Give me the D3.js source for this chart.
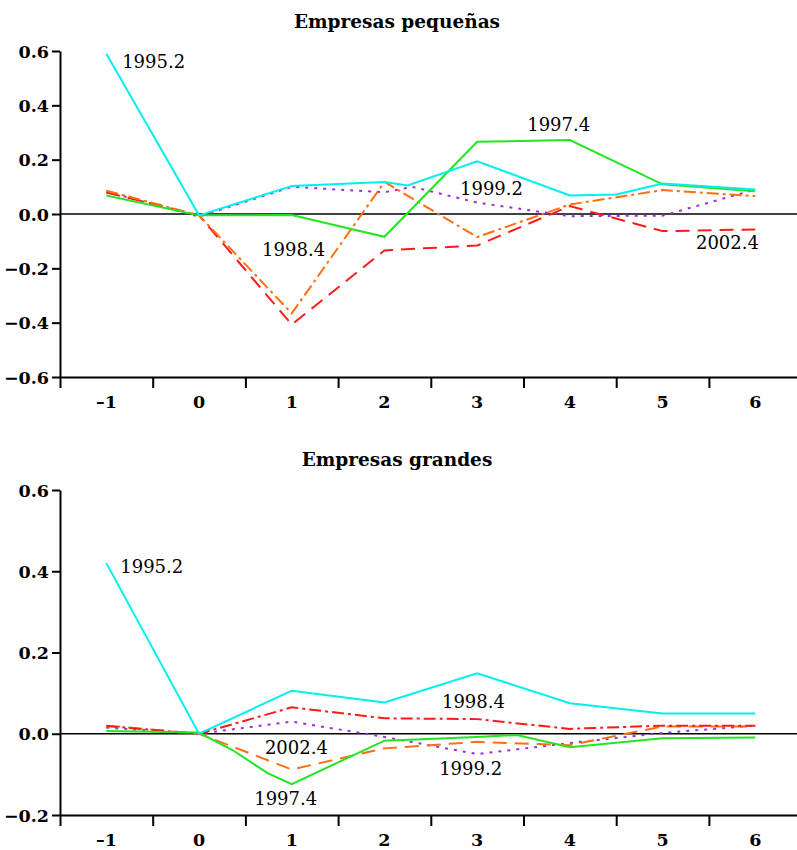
<html>
<head>
  <title>Empresas</title>
</head>
<style>
  body { margin: 0; padding: 0; background: #fff; }
  svg text { font-family: "DejaVu Serif", "Liberation Serif", serif; fill: #000; }
</style>
<body>
  <div id="chart"></div>
</body>
<script src="https://cdn.jsdelivr.net/npm/d3@7"></script>
<script>
  // horizontes (años tras el choque)
  const horizons = [-1, 0, 1, 2, 3, 4, 5, 6]
  const yTicksTop = [-0.6, -0.4, -0.2, 0, 0.2, 0.4, 0.6]
  const yTicksBottom = [-0.2, 0, 0.2, 0.4, 0.6]

  // Empresas pequeñas: [horizonte, valor]
  const small1995_2 = [[-1, 0.59], [0, -0.005], [1, 0.103], [2, 0.118], [2.25, 0.105], [3, 0.194], [4, 0.068], [4.5, 0.072], [5, 0.112], [6, 0.09]]
  const small1997_4 = [[-1, 0.068], [0, -0.005], [1, -0.004], [2, -0.084], [3, 0.266], [4, 0.272], [5, 0.109], [6, 0.084]]
  const small1999_2 = [[-1, 0.083], [0, -0.01], [1, 0.1], [2, 0.08], [2.3, 0.1], [3, 0.042], [4, -0.008], [5, -0.006], [6, 0.09]]
  const small1998_4 = [[-1, 0.086], [0, -0.005], [1, -0.366], [2, 0.118], [3, -0.085], [4, 0.035], [5, 0.088], [6, 0.066]]
  const small2002_4 = [[-1, 0.079], [0, -0.005], [1, -0.407], [2, -0.134], [3, -0.116], [4, 0.029], [5, -0.063], [6, -0.057]]

  // Empresas grandes
  const big1995_2 = [[-1, 0.42], [0, 0], [1, 0.106], [2, 0.077], [3, 0.149], [4, 0.075], [5, 0.05], [6, 0.05]]
  const big1998_4 = [[-1, 0.019], [0, 0], [1, 0.065], [2, 0.038], [3, 0.036], [4, 0.012], [5, 0.02], [6, 0.02]]
  const big1999_2 = [[-1, 0.015], [0, 0], [1, 0.03], [2, -0.008], [3, -0.05], [4, -0.023], [5, 0.002], [6, 0.02]]
  const big2002_4 = [[-1, 0.02], [0, 0], [1, -0.088], [2, -0.036], [3, -0.02], [4, -0.028], [5, 0.018], [6, 0.018]]
  const big1997_4 = [[-1, 0.007], [0, 0.003], [0.36, -0.04], [0.74, -0.097], [1, -0.124], [2, -0.017], [3, -0.008], [3.43, -0.003], [4, -0.033], [5, -0.011], [6, -0.009]]

  const width = 797
  const height = 850
  const svg = d3.select("#chart").append("svg")
    .attr("width", width)
    .attr("height", height)

  const x = d3.scaleLinear().domain([-1.5, 6.5]).range([60, 801.6])

  function panel(cfg) {
    const y = d3.scaleLinear().domain(cfg.domain).range(cfg.range)
    const g = svg.append("g")

    g.append("text")
      .attr("x", 397).attr("y", cfg.titleY)
      .attr("text-anchor", "middle")
      .attr("dominant-baseline", "middle")
      .attr("font-weight", "bold")
      .attr("font-size", 18.5)
      .text(cfg.title)

    // eje y
    const ay = g.append("g")
      .attr("transform", `translate(${x(-1.5)},0)`)
      .call(d3.axisLeft(y).tickValues(cfg.yTicks).tickSize(8).tickSizeOuter(0)
        .tickFormat(d => d3.format(".1f")(d).replace("-", "–")))
    ay.select(".domain").attr("stroke-width", 2)
    ay.selectAll(".tick line").attr("stroke-width", 2)
    ay.selectAll("text").attr("font-size", 17.5).attr("font-weight", "bold")
      .attr("font-family", "DejaVu Serif").attr("x", -11).attr("dy", "0.35em")

    // eje x: marcas entre horizontes
    const ax = g.append("g")
      .attr("transform", `translate(0,${cfg.range[0]})`)
      .call(d3.axisBottom(x).tickValues(d3.range(-1.5, 7, 1)).tickSize(11).tickSizeOuter(0).tickFormat(""))
    ax.select(".domain").attr("stroke-width", 2)
    ax.selectAll(".tick line").attr("stroke-width", 2)

    g.append("g")
      .selectAll("text").data(horizons).join("text")
      .attr("x", d => x(d))
      .attr("y", cfg.range[0] + 26)
      .attr("text-anchor", "middle")
      .attr("dominant-baseline", "middle")
      .attr("font-size", 17.5)
      .attr("font-weight", "bold")
      .text(d => String(d).replace("-", "–"))

    // línea de cero
    g.append("line")
      .attr("x1", x(-1.5)).attr("x2", width)
      .attr("y1", y(0)).attr("y2", y(0))
      .attr("stroke", "#000").attr("stroke-width", 1.6)

    const line = d3.line().x(d => x(d[0])).y(d => y(d[1]))
    cfg.series.forEach(s => {
      g.append("path")
        .datum(s.data)
        .attr("d", line)
        .attr("fill", "none")
        .attr("stroke", s.color)
        .attr("stroke-width", 2)
        .attr("stroke-dasharray", s.dash)
    })

    g.append("g")
      .selectAll("text").data(cfg.labels).join("text")
      .attr("x", d => x(d.h))
      .attr("y", d => y(d.v))
      .attr("text-anchor", "middle")
      .attr("dominant-baseline", "middle")
      .attr("font-size", 18)
      .text(d => d.t)
  }

  const cyan = "#00f0f0", green = "#22e622", purple = "#9b30d9", orange = "#ff6f10", red = "#ff1a1a"
  const solid = null, dotted = "3,6", dashed = "14,8", dashdot = "12,4,3,4"

  panel({
    title: "Empresas pequeñas", titleY: 23,
    domain: [-0.6, 0.6], range: [377, 51], yTicks: yTicksTop,
    series: [
      { data: small1999_2, color: purple, dash: dotted },
      { data: small2002_4, color: red, dash: dashed },
      { data: small1998_4, color: orange, dash: dashdot },
      { data: small1997_4, color: green, dash: solid },
      { data: small1995_2, color: cyan, dash: solid }
    ],
    labels: [
      { t: "1995.2", h: -0.49, v: 0.554 },
      { t: "1997.4", h: 3.88, v: 0.325 },
      { t: "1999.2", h: 3.155, v: 0.09 },
      { t: "1998.4", h: 1.02, v: -0.138 },
      { t: "2002.4", h: 5.70, v: -0.109 }
    ]
  })

  panel({
    title: "Empresas grandes", titleY: 461,
    domain: [-0.2, 0.6], range: [815, 490], yTicks: yTicksBottom,
    series: [
      { data: big1999_2, color: purple, dash: dotted },
      { data: big2002_4, color: orange, dash: dashed },
      { data: big1998_4, color: red, dash: dashdot },
      { data: big1997_4, color: green, dash: solid },
      { data: big1995_2, color: cyan, dash: solid }
    ],
    labels: [
      { t: "1995.2", h: -0.51, v: 0.408 },
      { t: "1998.4", h: 2.96, v: 0.076 },
      { t: "2002.4", h: 1.05, v: -0.037 },
      { t: "1999.2", h: 2.93, v: -0.089 },
      { t: "1997.4", h: 0.935, v: -0.163 }
    ]
  })
</script>
</html>
